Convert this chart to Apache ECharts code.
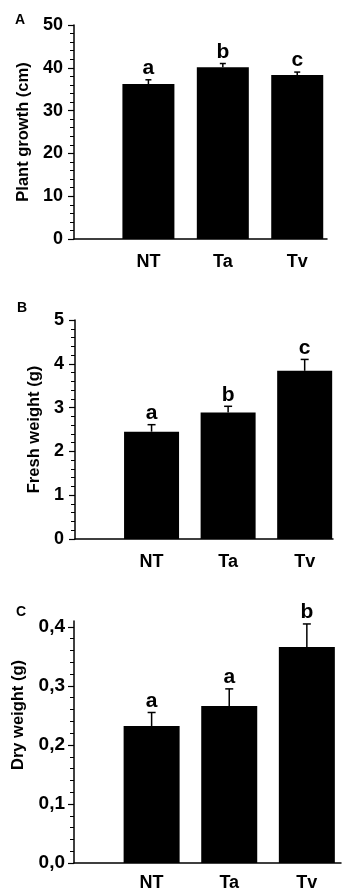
<!DOCTYPE html>
<html>
<head>
<meta charset="utf-8">
<script src="https://cdn.jsdelivr.net/npm/echarts@6/dist/echarts.min.js"></script>
<style>
  html, body { margin: 0; padding: 0; background: #fff; }
  #chart { width: 346px; height: 892px; }
</style>
</head>
<body>
<div id="chart"></div>
<script>
// treatments
const categories = ['NT', 'Ta', 'Tv'];
const positions = [1, 2, 3];

// A - plant growth (cm)
const growth = [36.2, 40.1, 38.3];
const growthErr = [1.0, 0.9, 0.7];
const growthLetters = ['a', 'b', 'c'];

// B - fresh weight (g)
const fresh = [2.45, 2.89, 3.84];
const freshErr = [0.16, 0.14, 0.26];
const freshLetters = ['a', 'b', 'c'];

// C - dry weight (g)
const dry = [0.232, 0.266, 0.366];
const dryErr = [0.023, 0.029, 0.039];
const dryLetters = ['a', 'a', 'b'];

const growthTicks = [0, 10, 20, 30, 40, 50];
const freshTicks = [0, 1, 2, 3, 4, 5];
const dryTicks = [0, 0.1, 0.2, 0.3, 0.4];

const FONT = 'Liberation Sans, Arial, sans-serif';

const myChart = echarts.init(document.getElementById('chart'));

function xAxisFor(gridIndex, max) {
    return {
        type: 'value', gridIndex, min: 0, max,
        splitLine: { show: false },
        axisTick: { show: false },
        axisLine: { onZero: false, lineStyle: { color: '#000', width: 1.5 } },
        axisLabel: {
            customValues: positions,
            formatter: v => categories[v - 1] || '',
            color: '#000', fontWeight: 'bold', fontSize: 18, fontFamily: FONT,
            margin: gridIndex === 2 ? 11 : 14
        }
    };
}

function yAxisFor(gridIndex, max, interval, name, nameGap, ticks, fmt, extra) {
    return Object.assign({
        type: 'value', gridIndex, min: 0, max, interval,
        name, nameLocation: 'middle', nameGap,
        nameTextStyle: { color: '#000', fontWeight: 'bold', fontSize: 16.5, fontFamily: FONT },
        splitLine: { show: false },
        axisLine: { show: true, lineStyle: { color: '#000', width: 1.5 } },
        axisTick: { show: true, length: 6, customValues: ticks, lineStyle: { color: '#000', width: 1.2 } },
        minorTick: { show: true, splitNumber: 5, length: 4, lineStyle: { color: '#000', width: 1 } },
        axisLabel: {
            customValues: ticks, formatter: fmt,
            color: '#000', fontWeight: 'bold', fontSize: 18, fontFamily: FONT, margin: 11
        }
    }, extra || {});
}

function barSeries(i, values, width) {
    return {
        type: 'bar', xAxisIndex: i, yAxisIndex: i,
        data: values.map((v, k) => [positions[k], v]),
        barWidth: width,
        itemStyle: { color: '#000' },
        silent: true
    };
}

function errSeries(i, values, errs, letters, cap) {
    return {
        type: 'custom', xAxisIndex: i, yAxisIndex: i,
        data: values.map((v, k) => [positions[k], v, errs[k]]),
        z: 5,
        renderItem: function (params, api) {
            const x = api.value(0), v = api.value(1), e = api.value(2);
            const base = api.coord([x, v]);
            const top = api.coord([x, v + e]);
            const ls = { stroke: '#000', lineWidth: 1.5 };
            return {
                type: 'group',
                children: [
                    { type: 'line', shape: { x1: base[0], y1: base[1], x2: top[0], y2: top[1] }, style: ls },
                    { type: 'line', shape: { x1: top[0] - cap / 2, y1: top[1], x2: top[0] + cap / 2, y2: top[1] }, style: ls },
                    {
                        type: 'text', x: top[0], y: top[1] - 1,
                        style: {
                            text: letters[params.dataIndex], align: 'center', verticalAlign: 'bottom',
                            fontSize: 21, fontWeight: 'bold', fontFamily: FONT, fill: '#000'
                        }
                    }
                ]
            };
        }
    };
}

const titleStyle = { fontSize: 14, fontWeight: 'bold', fontFamily: FONT, color: '#000' };

const option = {
    animation: false,
    backgroundColor: '#fff',
    title: [
        { text: 'A', left: 10, top: 8, textStyle: titleStyle },
        { text: 'B', left: 12, top: 296, textStyle: titleStyle },
        { text: 'C', left: 11, top: 600, textStyle: titleStyle }
    ],
    grid: [
        { left: 74, right: 19, top: 25, height: 214 },
        { left: 75, right: 13, top: 320, height: 219 },
        { left: 74, right: 5, top: 621, height: 242 }
    ],
    xAxis: [xAxisFor(0, 3.4), xAxisFor(1, 3.37), xAxisFor(2, 3.44)],
    yAxis: [
        yAxisFor(0, 50, 10, 'Plant growth (cm)', 40, growthTicks, v => String(v)),
        yAxisFor(1, 5, 1, 'Fresh weight (g)', 32, freshTicks, v => String(v)),
        yAxisFor(2, 0.41, 0.1, 'Dry weight (g)', 47, dryTicks, v => v.toFixed(1).replace('.', ','), {
            nameTextStyle: { color: '#000', fontWeight: 'bold', fontSize: 16.5, fontFamily: FONT, padding: [0, 0, 0, 54] },
            axisLabel: {
                customValues: dryTicks, formatter: v => v.toFixed(1).replace('.', ','),
                color: '#000', fontWeight: 'bold', fontSize: 19, fontFamily: FONT, margin: 9
            }
        })
    ],
    series: [
        barSeries(0, growth, 52), errSeries(0, growth, growthErr, growthLetters, 6),
        barSeries(1, fresh, 55), errSeries(1, fresh, freshErr, freshLetters, 8),
        barSeries(2, dry, 56), errSeries(2, dry, dryErr, dryLetters, 8)
    ]
};

myChart.setOption(option);
</script>
</body>
</html>
